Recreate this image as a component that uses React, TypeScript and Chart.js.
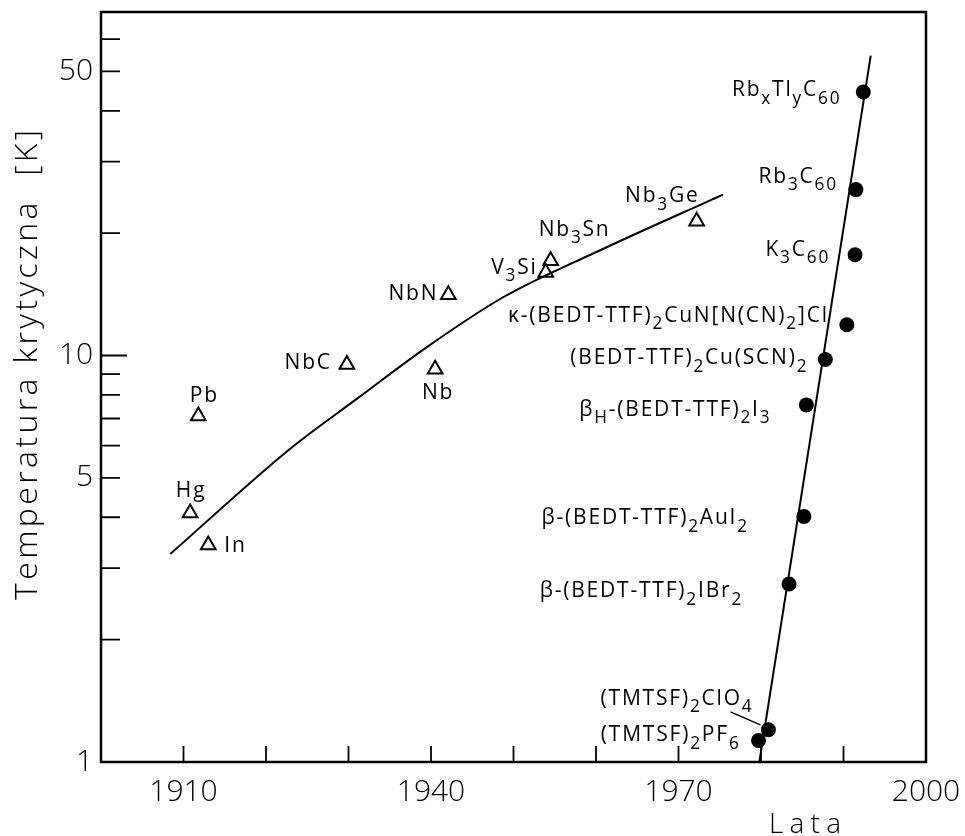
import React, { useEffect, useRef } from "react";
import { Chart, registerables } from "chart.js";

Chart.register(...registerables);

// ---------- axes ----------
const X_MIN = 1900;
const X_MAX = 2000;
const Y_MIN = 1;
const Y_MAX = 70;
const X_TICK_LABELS = [1910, 1940, 1970, 2000];
const X_TICK_MARKS = [1910, 1920, 1930, 1940, 1950, 1960, 1970, 1980, 1990];
const Y_TICK_LABELS = [1, 5, 10, 50];
const Y_TICK_MARKS_MINOR = [2, 3, 4, 5, 6, 7, 8, 9, 20, 30, 40, 50, 60];
const Y_TICK_MARKS_MAJOR = [10];
const X_TITLE = "Lata";
const Y_TITLE = "Temperatura krytyczna  [K]";

// ---------- conventional superconductors (open triangles) ----------
const TRI_NAMES = ["Hg", "Pb", "In", "NbC", "NbN", "Nb", "V_{3}Si", "Nb_{3}Sn", "Nb_{3}Ge"];
const TRI_YEARS = [1910.8, 1911.8, 1913.0, 1929.8, 1942.1, 1940.5, 1953.9, 1954.5, 1972.2];
const TRI_TC = [4.1, 7.1, 3.42, 9.5, 14.1, 9.25, 16.0, 17.1, 21.4];

// ---------- organic / fulleride superconductors (filled circles) ----------
const CIRC_NAMES = [
  "(TMTSF)_{2}PF_{6}",
  "(TMTSF)_{2}ClO_{4}",
  "β-(BEDT-TTF)_{2}IBr_{2}",
  "β-(BEDT-TTF)_{2}AuI_{2}",
  "β_{H}-(BEDT-TTF)_{2}I_{3}",
  "(BEDT-TTF)_{2}Cu(SCN)_{2}",
  "κ-(BEDT-TTF)_{2}CuN[N(CN)_{2}]Cl",
  "K_{3}C_{60}",
  "Rb_{3}C_{60}",
  "Rb_{x}Tl_{y}C_{60}",
];
const CIRC_YEARS = [1979.7, 1980.9, 1983.4, 1985.2, 1985.5, 1987.8, 1990.4, 1991.4, 1991.5, 1992.4];
const CIRC_TC = [1.13, 1.2, 2.74, 4.02, 7.56, 9.78, 11.9, 17.7, 25.6, 44.5];

// ---------- trend lines ----------
const CURVE_YEARS = [1908.4, 1922.9, 1931.0, 1939.5, 1948.8, 1960.9, 1975.4];
const CURVE_TC = [3.25, 5.89, 7.82, 10.49, 13.93, 18.31, 24.88];
const LINE_YEARS = [1979.8, 1993.3];
const LINE_TC = [1.0, 54.7];

// ---------- label placement (pixel offsets from the mark) ----------
const TRI_LABEL_POS: [number, number, CanvasTextAlign][] = [
  [1, -16, "center"],
  [6, -14, "center"],
  [16, 7, "left"],
  [-15, 4, "right"],
  [-10, 5, "right"],
  [3, 30, "center"],
  [-8, 1, "right"],
  [-12, -25, "left"],
  [3, -19, "right"],
];
const CIRC_LABEL_POS: [number, number, CanvasTextAlign][] = [
  [-18, 1, "right"],
  [-15, -25, "right"],
  [-46, 13, "right"],
  [-55, 8, "right"],
  [-35, 11, "right"],
  [-17, 5, "right"],
  [-18, -3, "right"],
  [-25, 1, "right"],
  [-18, -7, "right"],
  [-22, 4, "right"],
];
// leader line for (TMTSF)2ClO4 label, relative to its mark
const LEADER_INDEX = 1;
const LEADER: [number, number, number, number] = [-38, -18, -8, -5];

const FAMILY = "'Open Sans', 'DejaVu Sans', sans-serif";
const AXIS_WEIGHT = "300";
const LABEL_WEIGHT = "400";

function parseRich(s: string) {
  const segs: { t: string; sub: boolean }[] = [];
  const re = /_\{([^}]*)\}/g;
  let last = 0;
  let m: RegExpExecArray | null;
  while ((m = re.exec(s))) {
    if (m.index > last) segs.push({ t: s.slice(last, m.index), sub: false });
    segs.push({ t: m[1], sub: true });
    last = re.lastIndex;
  }
  if (last < s.length) segs.push({ t: s.slice(last), sub: false });
  return segs;
}

function drawRich(ctx: CanvasRenderingContext2D, text: string, x: number, y: number, align: CanvasTextAlign, size: number) {
  const segs = parseRich(text);
  const fMain = `${LABEL_WEIGHT} ${size}px ${FAMILY}`;
  const fSub = `${LABEL_WEIGHT} ${size * 0.82}px ${FAMILY}`;
  const widths = segs.map((s) => {
    ctx.font = s.sub ? fSub : fMain;
    return ctx.measureText(s.t).width;
  });
  const total = widths.reduce((a, b) => a + b, 0);
  let cx = align === "right" ? x - total : align === "center" ? x - total / 2 : x;
  ctx.textAlign = "left";
  ctx.textBaseline = "alphabetic";
  segs.forEach((s, i) => {
    ctx.font = s.sub ? fSub : fMain;
    ctx.fillText(s.t, cx, s.sub ? y + size * 0.36 : y);
    cx += widths[i];
  });
}

// draws text char by char, spread to a given total length, centred at (0,0) baseline
function drawSpread(ctx: CanvasRenderingContext2D, text: string, length: number) {
  (ctx as any).letterSpacing = "0px";
  const chars = Array.from(text);
  const w = chars.map((c) => ctx.measureText(c).width);
  const natural = w.reduce((a, b) => a + b, 0);
  const gap = chars.length > 1 ? (length - natural) / (chars.length - 1) : 0;
  let cx = -length / 2;
  ctx.textAlign = "left";
  ctx.textBaseline = "alphabetic";
  chars.forEach((c, i) => {
    ctx.fillText(c, cx, 0);
    cx += w[i] + gap;
  });
}

const framePlugin = {
  id: "frame",
  afterDraw(chart: any) {
    const { ctx, chartArea: a, scales } = chart;
    const x = scales.x;
    const y = scales.y;
    ctx.save();
    ctx.strokeStyle = "#000";
    ctx.fillStyle = "#000";
    ctx.lineWidth = 2.5;
    ctx.strokeRect(a.left, a.top, a.right - a.left, a.bottom - a.top);

    ctx.lineWidth = 1.8;
    ctx.beginPath();
    X_TICK_MARKS.forEach((v) => {
      const px = x.getPixelForValue(v);
      ctx.moveTo(px, a.bottom);
      ctx.lineTo(px, a.bottom - 16);
    });
    Y_TICK_MARKS_MINOR.forEach((v) => {
      const py = y.getPixelForValue(v);
      ctx.moveTo(a.left, py);
      ctx.lineTo(a.left + 19, py);
    });
    Y_TICK_MARKS_MAJOR.forEach((v) => {
      const py = y.getPixelForValue(v);
      ctx.moveTo(a.left, py);
      ctx.lineTo(a.left + 26, py);
    });
    ctx.stroke();

    // point labels
    (ctx as any).letterSpacing = "1.8px";
    TRI_NAMES.forEach((name, i) => {
      const px = x.getPixelForValue(TRI_YEARS[i]);
      const py = y.getPixelForValue(TRI_TC[i]);
      const [dx, dy, al] = TRI_LABEL_POS[i];
      drawRich(ctx, name, px + dx, py + dy, al, 21);
    });
    CIRC_NAMES.forEach((name, i) => {
      const px = x.getPixelForValue(CIRC_YEARS[i]);
      const py = y.getPixelForValue(CIRC_TC[i]);
      const [dx, dy, al] = CIRC_LABEL_POS[i];
      drawRich(ctx, name, px + dx, py + dy, al, 21);
      if (i === LEADER_INDEX) {
        ctx.lineWidth = 1.5;
        ctx.beginPath();
        ctx.moveTo(px + LEADER[0], py + LEADER[1]);
        ctx.lineTo(px + LEADER[2], py + LEADER[3]);
        ctx.stroke();
      }
    });

    // x axis title
    ctx.save();
    ctx.translate(a.right - 121, a.bottom + 71);
    ctx.font = `${AXIS_WEIGHT} 28px ${FAMILY}`;
    drawSpread(ctx, X_TITLE, 72);
    ctx.restore();

    // y axis title
    ctx.save();
    ctx.translate(a.left - 64, (a.top + a.bottom) / 2 - 22);
    ctx.rotate(-Math.PI / 2);
    ctx.font = `${AXIS_WEIGHT} 32px ${FAMILY}`;
    drawSpread(ctx, Y_TITLE, 470);
    ctx.restore();

    ctx.restore();
  },
};

function zeroPadding(s: any) {
  s.paddingTop = 0;
  s.paddingBottom = 0;
  s.paddingLeft = 0;
  s.paddingRight = 0;
}

export default function App() {
  const ref = useRef<HTMLCanvasElement | null>(null);
  useEffect(() => {
    if (!ref.current) return;
    const tickFont = { family: FAMILY, size: 30, weight: AXIS_WEIGHT as any };
    const chart = new Chart(ref.current, {
      type: "scatter",
      data: {
        datasets: [
          {
            label: "triangles",
            data: TRI_YEARS.map((v, i) => ({ x: v, y: TRI_TC[i] })),
            pointStyle: "triangle",
            pointRadius: 8.5,
            borderWidth: 2,
            borderColor: "#000",
            backgroundColor: "rgba(0,0,0,0)",
            showLine: false,
          },
          {
            label: "circles",
            data: CIRC_YEARS.map((v, i) => ({ x: v, y: CIRC_TC[i] })),
            pointStyle: "circle",
            pointRadius: 7.5,
            borderWidth: 0,
            borderColor: "#000",
            backgroundColor: "#000",
            showLine: false,
          },
          {
            label: "curve",
            data: CURVE_YEARS.map((v, i) => ({ x: v, y: CURVE_TC[i] })),
            showLine: true,
            pointRadius: 0,
            borderColor: "#000",
            borderWidth: 2,
            cubicInterpolationMode: "monotone",
            fill: false,
          },
          {
            label: "line",
            data: LINE_YEARS.map((v, i) => ({ x: v, y: LINE_TC[i] })),
            showLine: true,
            pointRadius: 0,
            borderColor: "#000",
            borderWidth: 2,
            fill: false,
          },
        ],
      },
      options: {
        animation: false,
        responsive: false,
        events: [],
        layout: { padding: { top: 12, right: 39, left: 0, bottom: 0 } },
        plugins: { legend: { display: false }, tooltip: { enabled: false } },
        scales: {
          x: {
            type: "linear",
            min: X_MIN,
            max: X_MAX,
            afterFit: (s: any) => {
              s.height = 74;
              zeroPadding(s);
            },
            afterBuildTicks: (s: any) => {
              s.ticks = X_TICK_LABELS.map((v) => ({ value: v }));
            },
            grid: { display: false, drawTicks: false },
            border: { display: false },
            ticks: {
              padding: 12,
              color: "#000",
              font: tickFont,
              maxRotation: 0,
              autoSkip: false,
              callback: (v: any) => String(v),
            },
          },
          y: {
            type: "logarithmic",
            min: Y_MIN,
            max: Y_MAX,
            afterFit: (s: any) => {
              s.width = 101;
              zeroPadding(s);
            },
            afterBuildTicks: (s: any) => {
              s.ticks = Y_TICK_LABELS.map((v) => ({ value: v }));
            },
            grid: { display: false, drawTicks: false },
            border: { display: false },
            ticks: {
              padding: 8,
              color: "#000",
              font: tickFont,
              autoSkip: false,
              callback: (v: any) => String(v),
            },
          },
        },
      },
      plugins: [framePlugin],
    });
    return () => chart.destroy();
  }, []);
  return (
    <div style={{ position: "absolute", left: 0, top: 0, width: 965, height: 836, background: "#fff" }}>
      <canvas ref={ref} width={965} height={836} style={{ display: "block" }} />
    </div>
  );
}
